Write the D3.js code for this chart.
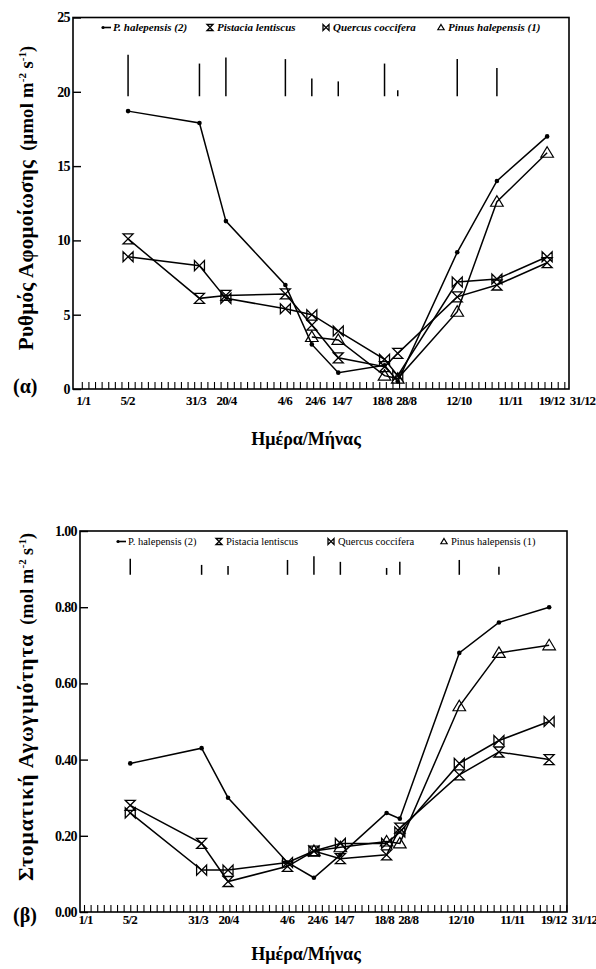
<!DOCTYPE html>
<html><head><meta charset="utf-8">
<script src="https://cdn.jsdelivr.net/npm/d3@7"></script>
<style>body{margin:0;background:#fff}svg{display:block}</style>
</head><body>
<svg id="c" width="596" height="969"></svg>
<script>
// ---------- data ----------
const sampleDates = ["5/2","31/3","20/4","4/6","24/6","14/7","18/8","28/8","12/10","11/11","19/12"];
const xTickLabels = ["1/1","5/2","31/3","20/4","4/6","24/6","14/7","18/8","28/8","12/10","11/11","19/12","31/12"];
const seriesNames = ["P. halepensis (2)","Pistacia lentiscus","Quercus coccifera","Pinus halepensis (1)"];

// (α) assimilation rate, μmol m-2 s-1
const aPhal2    = [18.7, 17.9, 11.3, 7.0, 3.0, 1.1, 1.6, 0.5, 9.2, 14.0, 17.0];
const aPistacia = [10.1, 6.1, 6.3, 6.4, 4.3, 2.1, 1.5, 2.4, 6.2, 7.0, 8.5];
const aQuercus  = [8.9, 8.3, 6.1, 5.4, 5.0, 3.9, 2.0, 0.9, 7.2, 7.4, 8.9];
const aPinus1   = [null, null, null, null, 3.5, 3.3, 0.9, 0.7, 5.2, 12.6, 15.9];
const aBarBase  = 19.7;
const aBars     = [2.8, 2.2, 2.6, 2.5, 1.2, 1.0, 2.2, 0.4, 2.5, 1.9];
const aYTicks   = [0, 5, 10, 15, 20, 25];

// (β) stomatal conductance, mol m-2 s-1
const gPhal2    = [0.39, 0.43, 0.30, 0.13, 0.09, 0.15, 0.26, 0.245, 0.68, 0.76, 0.80];
const gPistacia = [0.28, 0.18, 0.08, 0.12, 0.16, 0.14, 0.15, 0.22, 0.36, 0.42, 0.40];
const gQuercus  = [0.26, 0.11, 0.11, 0.13, 0.16, 0.18, 0.18, 0.21, 0.39, 0.45, 0.50];
const gPinus1   = [null, null, null, null, 0.16, 0.17, 0.185, 0.18, 0.54, 0.68, 0.70];
const gBarBase  = 0.885;
const gBars     = [0.042, 0.026, 0.023, 0.039, 0.049, 0.034, 0.018, 0.034, 0.039, 0.021];
const gYTicks   = [0, 0.2, 0.4, 0.6, 0.8, 1.0];

// label layout nudges (px) so crowded date labels sit as in the original
const labelNudge = [1, -1, -4, 0, -1, 3, 3, -3, 8, 1, 13, 4, 19];

// ---------- helpers ----------
const YEAR = 2001;
function parseDM(s){const [d,m]=s.split("/").map(Number);return new Date(YEAR,m-1,d);}
const FONT = "'Liberation Serif','Times New Roman',serif";
const svg = d3.select("#c");

const markers = {
  dot: (g,s)=>g.append("circle").attr("r",2.3).attr("fill","#000"),
  hourglass: (g,s)=>g.append("path").attr("d",`M${-s},${-s}H${s}L${-s},${s}H${s}Z`).attr("fill","none").attr("stroke","#000").attr("stroke-width",1.3),
  bowtie: (g,s)=>g.append("path").attr("d",`M${-s},${-s}V${s}L${s},${-s}V${s}Z`).attr("fill","none").attr("stroke","#000").attr("stroke-width",1.3),
  triangle: (g,s)=>g.append("path").attr("d",`M0,${-s}L${s*1.05},${s*0.75}H${-s*1.05}Z`).attr("fill","none").attr("stroke","#000").attr("stroke-width",1.2)
};
const markerKinds = ["dot","hourglass","bowtie","triangle"];

function panel(o){
  const g = svg.append("g");
  const x = d3.scaleTime().domain([parseDM("1/1"), parseDM("31/12")]).range(o.xr);
  const y = d3.scaleLinear().domain([o.yTicks[0], o.yTicks[o.yTicks.length-1]]).range([o.bottom, o.top]);

  // minor x ticks every 5 days (inside)
  const minor = d3.range(0, 366, 5).map(d=>d3.timeDay.offset(parseDM("1/1"), d));
  g.append("g").attr("transform",`translate(0,${o.bottom})`)
    .call(d3.axisBottom(x).tickValues(minor).tickSize(-7).tickFormat(""))
    .call(a=>{a.select(".domain").remove(); a.selectAll("line").attr("stroke","#000").attr("stroke-width",1.1);});

  // x labels
  g.append("g").attr("transform",`translate(0,${o.bottom})`)
    .call(d3.axisBottom(x).tickValues(xTickLabels.map(parseDM)).tickSize(0).tickPadding(o.xPad)
      .tickFormat((d,i)=>xTickLabels[i]))
    .call(a=>{a.select(".domain").remove();
      a.selectAll("text").attr("dx",(d,i)=>labelNudge[i]).attr("font-family",FONT).attr("font-weight","bold").attr("font-size",13).attr("letter-spacing","-0.8").attr("fill","#000");});

  // y axis (ticks inside)
  g.append("g").attr("transform",`translate(${o.left},0)`)
    .call(d3.axisLeft(y).tickValues(o.yTicks).tickSizeInner(-8).tickSizeOuter(0).tickPadding(3).tickFormat(o.yFmt))
    .call(a=>{a.select(".domain").remove();
      a.selectAll("line").attr("stroke","#000").attr("stroke-width",1.4);
      a.selectAll("text").attr("font-family",FONT).attr("font-weight","bold").attr("font-size",14).attr("letter-spacing","-0.6").attr("fill","#000");});

  // frame
  g.append("rect").attr("x",o.left).attr("y",o.top).attr("width",o.right-o.left).attr("height",o.bottom-o.top)
    .attr("fill","none").attr("stroke","#000").attr("stroke-width",1.6);

  // vertical bars
  g.append("g").selectAll("line").data(o.bars).join("line")
    .attr("x1",(d,i)=>x(parseDM(sampleDates[i]))).attr("x2",(d,i)=>x(parseDM(sampleDates[i])))
    .attr("y1",y(o.barBase)).attr("y2",d=>y(o.barBase+d))
    .attr("stroke","#000").attr("stroke-width",1.5);

  // series
  o.series.forEach((vals,k)=>{
    const pts = vals.map((v,i)=>({d:parseDM(sampleDates[i]),v})).filter(p=>p.v!=null);
    g.append("path").datum(pts).attr("d",d3.line().x(p=>x(p.d)).y(p=>y(p.v)))
      .attr("fill","none").attr("stroke","#000").attr("stroke-width",1.5);
    pts.forEach(p=>{
      const mg = g.append("g").attr("transform",`translate(${x(p.d)},${y(p.v)})`);
      markers[markerKinds[k]](mg, k===3?6:5);
    });
  });

  // legend
  const lg = g.append("g");
  o.legendX.forEach((lx,k)=>{
    const it = lg.append("g").attr("transform",`translate(${lx},${o.legendY})`);
    if(k===0){
      it.append("line").attr("x1",-9).attr("x2",-1).attr("y1",-3.5).attr("y2",-3.5).attr("stroke","#000").attr("stroke-width",1.6);
      it.append("circle").attr("cx",-9).attr("cy",-3.5).attr("r",1.6);
    } else {
      const mg = it.append("g").attr("transform",`translate(-6,-3.5)`);
      markers[markerKinds[k]](mg, 3);
    }
    it.append("text").attr("x",1).attr("font-family",FONT).attr("font-size",o.legendSize)
      .attr("font-style",o.legendItalic?"italic":"normal").attr("font-weight",o.legendItalic?"bold":"normal").attr("fill","#000").text(seriesNames[k]);
  });

  // y title
  const yt = g.append("text").attr("transform",`translate(${o.yTitleX},${o.yTitleY}) rotate(-90)`)
    .attr("text-anchor","middle").attr("font-family",FONT).attr("font-weight","bold").attr("fill","#000");
  yt.append("tspan").attr("font-size",o.titleSize).attr("letter-spacing",o.titleLS).text(o.yTitle);
  yt.append("tspan").attr("font-size",o.unitSize).attr("dx",9).attr("letter-spacing",0.3).text("(" + o.unitA);
  yt.append("tspan").attr("font-size",o.unitSize*0.6).attr("dy",-7).text("-2");
  yt.append("tspan").attr("font-size",o.unitSize).attr("dy",7).text(" s");
  yt.append("tspan").attr("font-size",o.unitSize*0.6).attr("dy",-7).text("-1");
  yt.append("tspan").attr("font-size",o.unitSize).attr("dy",7).text(")");

  // panel tag
  g.append("text").attr("x",13).attr("y",o.tagY).attr("font-family",FONT).attr("font-weight","bold")
    .attr("font-size",20).attr("fill","#000").text(o.tag);
  // x title
  g.append("text").attr("x",o.xTitleX).attr("y",o.xTitleY).attr("text-anchor","middle").attr("font-family",FONT)
    .attr("font-weight","bold").attr("font-size",18).attr("fill","#000").text("Ημέρα/Μήνας");
}

panel({left:73,right:569,top:17.5,bottom:389,xr:[81.8,563],yTicks:aYTicks,yFmt:d3.format("d"),xPad:7,
  series:[aPhal2,aPistacia,aQuercus,aPinus1],bars:aBars,barBase:aBarBase,
  legendX:[112,216,332,447],legendY:31,legendSize:11,legendItalic:true,
  yTitle:"Ρυθμός Αφομοίωσης",titleSize:21,titleLS:0.3,unitA:"μmol m",unitSize:18.5,yTitleX:33,yTitleY:198,
  tag:"(α)",tagY:393,xTitleX:306,xTitleY:445});

panel({left:80,right:567,top:531,bottom:912,xr:[84,565],yTicks:gYTicks,yFmt:d3.format(".2f"),xPad:2.5,
  series:[gPhal2,gPistacia,gQuercus,gPinus1],bars:gBars,barBase:gBarBase,
  legendX:[127,225,337,450],legendY:545,legendSize:10.5,legendItalic:false,
  yTitle:"Στοματική Αγωγιμότητα",titleSize:21.5,titleLS:1,unitA:"mol m",unitSize:18,yTitleX:33,yTitleY:707,
  tag:"(β)",tagY:922,xTitleX:306,xTitleY:960});
</script>
</body></html>
